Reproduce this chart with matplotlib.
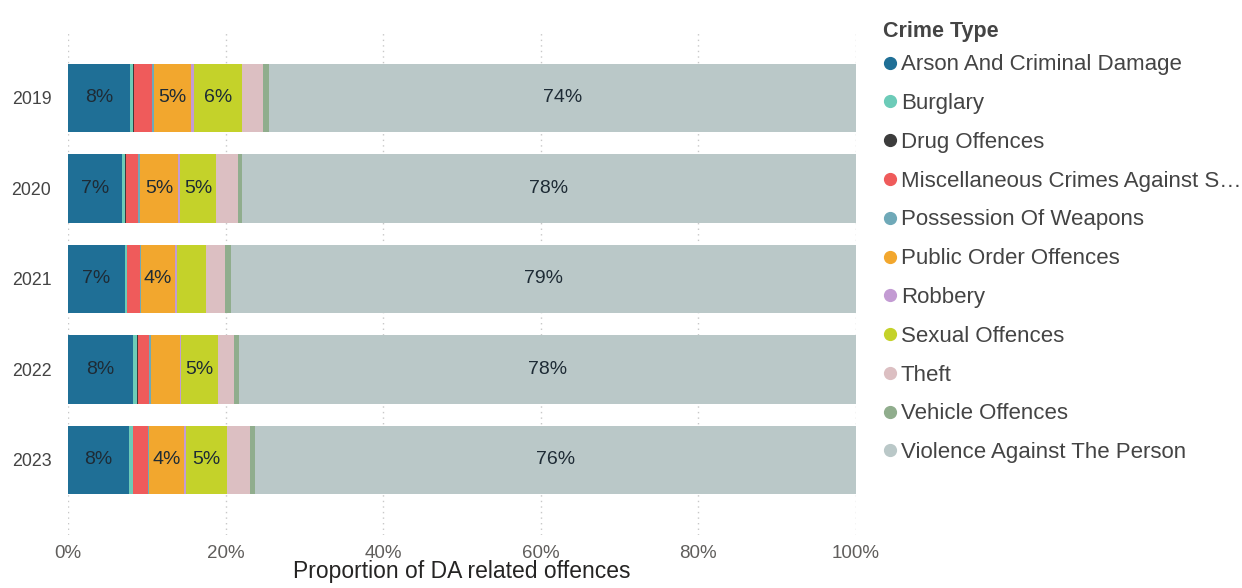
import numpy as np
import matplotlib
matplotlib.use('Agg')
import matplotlib.pyplot as plt
from matplotlib.lines import Line2D

plt.rcParams['font.family'] = ['Liberation Sans', 'DejaVu Sans']

years = ['2019', '2020', '2021', '2022', '2023']
crime_types = ['Arson And Criminal Damage', 'Burglary', 'Drug Offences',
               'Miscellaneous Crimes Against S\u2026', 'Possession Of Weapons',
               'Public Order Offences', 'Robbery', 'Sexual Offences', 'Theft',
               'Vehicle Offences', 'Violence Against The Person']

# percent of DA related offences per year
arson = [7.9, 6.8, 7.2, 8.2, 7.7]
burglary = [0.4, 0.5, 0.3, 0.6, 0.5]
drug = [0.1, 0.1, 0.05, 0.1, 0.1]
misc = [2.2, 1.5, 1.6, 1.35, 1.8]
weapons = [0.25, 0.2, 0.1, 0.25, 0.2]
public_order = [4.8, 4.9, 4.4, 3.7, 4.4]
robbery = [0.3, 0.25, 0.2, 0.2, 0.25]
sexual = [6.1, 4.6, 3.7, 4.6, 5.25]
theft = [2.7, 2.75, 2.45, 2.1, 2.95]
vehicle = [0.8, 0.5, 0.7, 0.6, 0.65]
violence = [74.4, 78.0, 79.4, 78.3, 76.3]

colors = ['#1f6f96', '#6ccbb8', '#3c3c3c', '#ef5b5b', '#6fa9b8', '#f2a72e',
          '#c39bd3', '#c4d22a', '#dcbfc2', '#90ad8d', '#bac8c8']

series = np.array([arson, burglary, drug, misc, weapons, public_order,
                   robbery, sexual, theft, vehicle, violence])
shares = series / series.sum(axis=0) * 100

fig = plt.figure(figsize=(12.42, 5.88), dpi=100)
ax = fig.add_axes([68 / 1242, 1 - 535 / 588, 788 / 1242, 505 / 588])

y = np.arange(len(years))
left = np.zeros(len(years))
for i, name in enumerate(crime_types):
    ax.barh(y, shares[i], left=left, height=0.76, color=colors[i], label=name, zorder=2)
    for j in range(len(years)):
        if shares[i][j] >= 4:
            ax.text(left[j] + shares[i][j] / 2, y[j], f'{round(shares[i][j])}%',
                    ha='center', va='center', fontsize=14, color='#1e2b35', zorder=3)
    left += shares[i]

ax.set_xlim(0, 100)
ax.set_ylim(4.83, -0.751)
ax.set_yticks(y)
ax.set_yticklabels(years)
ax.set_xticks(np.arange(0, 101, 20))
ax.set_xticklabels([f'{v}%' for v in range(0, 101, 20)])
ax.tick_params(length=0, labelsize=13.5, colors='#605e5c', pad=7)
ax.tick_params(axis='y', labelsize=12.8, colors='#444444', pad=12)
ax.xaxis.grid(True, linestyle=(0, (1, 3)), color='#c8c8c8', linewidth=1, zorder=0)
for s in ax.spines.values():
    s.set_visible(False)
ax.set_xlabel('Proportion of DA related offences', fontsize=16.5, color='#252423', labelpad=-1)

handles = [Line2D([], [], marker='o', linestyle='none', markersize=8.5,
                  markerfacecolor=c, markeredgecolor=c) for c in colors]
leg = fig.legend(handles, crime_types, loc='upper left', bbox_to_anchor=(874 / 1242, 1 - 12 / 588),
                 frameon=False, fontsize=16, title='Crime Type', alignment='left',
                 handlelength=0.6, handletextpad=0.2, labelspacing=0.8, borderaxespad=0)
leg._legend_box.sep = 9
leg.get_title().set_fontsize(15.5)
leg.get_title().set_fontweight('bold')
leg.get_title().set_color('#444444')
for t in leg.get_texts():
    t.set_color('#444444')

fig.savefig('out.png', dpi=100)
